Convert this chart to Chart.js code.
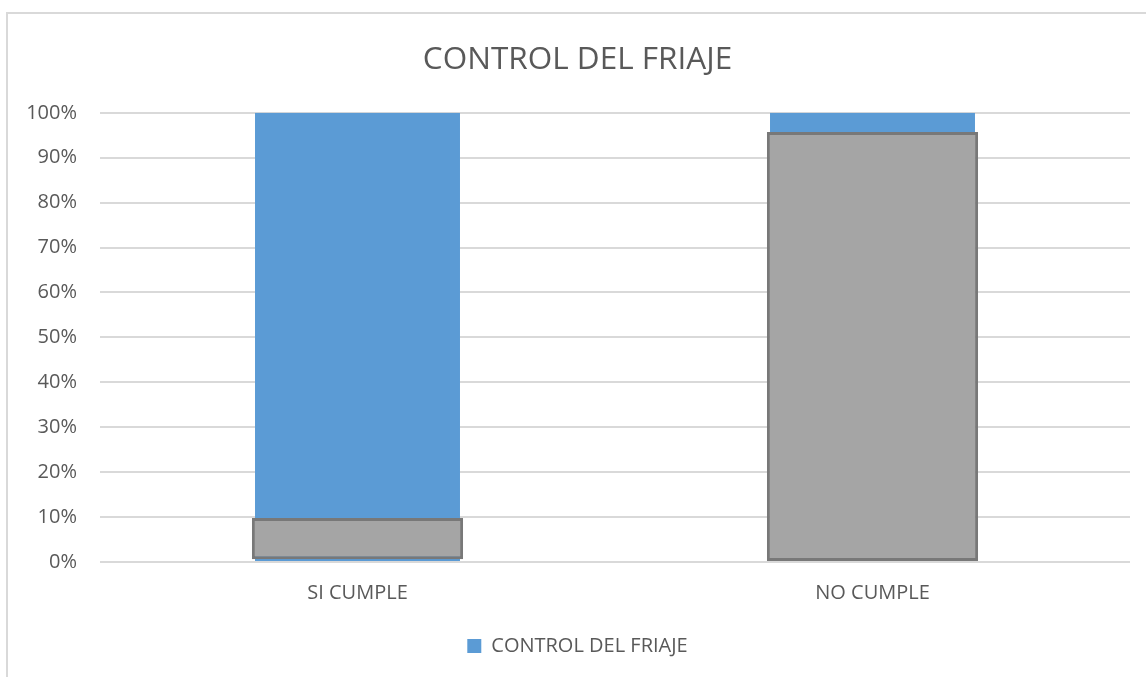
<!DOCTYPE html>
<html>
<head>
<meta charset="utf-8">
<script src="https://cdn.jsdelivr.net/npm/chart.js@4"></script>
<style>
  html, body { margin: 0; padding: 0; overflow: hidden; background: #fff; }
  #frame { position: absolute; left: 6px; top: 12px; width: 1200px; height: 700px;
           border-left: 2px solid #d9d9d9; border-top: 2px solid #d9d9d9; }
  #wrap { position: absolute; left: 0; top: 0; width: 1146px; height: 677px; }
</style>
</head>
<body>
<div id="frame"></div>
<div id="wrap"><canvas id="chart"></canvas></div>
<script>
// Data
const categories = ['SI CUMPLE', 'NO CUMPLE'];
const seriesName = 'CONTROL DEL FRIAJE';
const seriesValues = [100, 100];
// grey boxes laid over the bars in the original (low, high in %)
const overlayLow = [0.6, 0.2];
const overlayHigh = [9.8, 95.7];
const yTicks = [0, 10, 20, 30, 40, 50, 60, 70, 80, 90, 100];

const textColor = '#595959';
const gridColor = '#d9d9d9';
const blue = '#5b9bd5';
const grey = '#a5a5a5';
const greyEdge = '#787878';

Chart.defaults.font.family = "'Open Sans', 'Noto Sans', sans-serif";
Chart.defaults.color = textColor;

const overlay = categories.map((c, i) => [overlayLow[i], overlayHigh[i]]);

new Chart(document.getElementById('chart'), {
  type: 'bar',
  data: {
    labels: categories,
    datasets: [
      {
        label: seriesName,
        data: seriesValues,
        backgroundColor: blue,
        borderWidth: 0,
        grouped: false,
        order: 1,
        barPercentage: 0.398,
        categoryPercentage: 1
      },
      {
        label: 'overlay',
        data: overlay,
        backgroundColor: grey,
        borderColor: greyEdge,
        borderWidth: 3,
        borderSkipped: false,
        grouped: false,
        order: 0,
        barPercentage: 0.41,
        categoryPercentage: 1
      }
    ]
  },
  options: {
    responsive: true,
    maintainAspectRatio: false,
    animation: false,
    layout: { padding: { top: 0, left: 25, right: 16, bottom: 11 } },
    plugins: {
      title: {
        display: true,
        text: seriesName,
        color: textColor,
        font: { size: 31.5, weight: 'normal' },
        padding: { top: 41, bottom: 34 }
      },
      legend: {
        position: 'bottom',
        labels: {
          boxWidth: 14,
          boxHeight: 14,
          padding: 10,
          color: textColor,
          font: { size: 20 },
          filter: item => item.datasetIndex === 0
        }
      },
      tooltip: { enabled: false }
    },
    scales: {
      x: {
        grid: { display: false, drawTicks: false },
        border: { display: false },
        ticks: { padding: 19, font: { size: 20 }, color: textColor },
        afterFit: s => { s.height = 64; }
      },
      y: {
        min: 0,
        max: 100,
        afterBuildTicks: s => { s.ticks = yTicks.map(v => ({ value: v })); },
        grid: { color: gridColor, lineWidth: 2, drawTicks: false },
        border: { display: false },
        ticks: { padding: 23, font: { size: 20 }, color: textColor, callback: v => v + '%' },
        afterFit: s => { s.width = 75; }
      }
    }
  }
});
</script>
</body>
</html>
